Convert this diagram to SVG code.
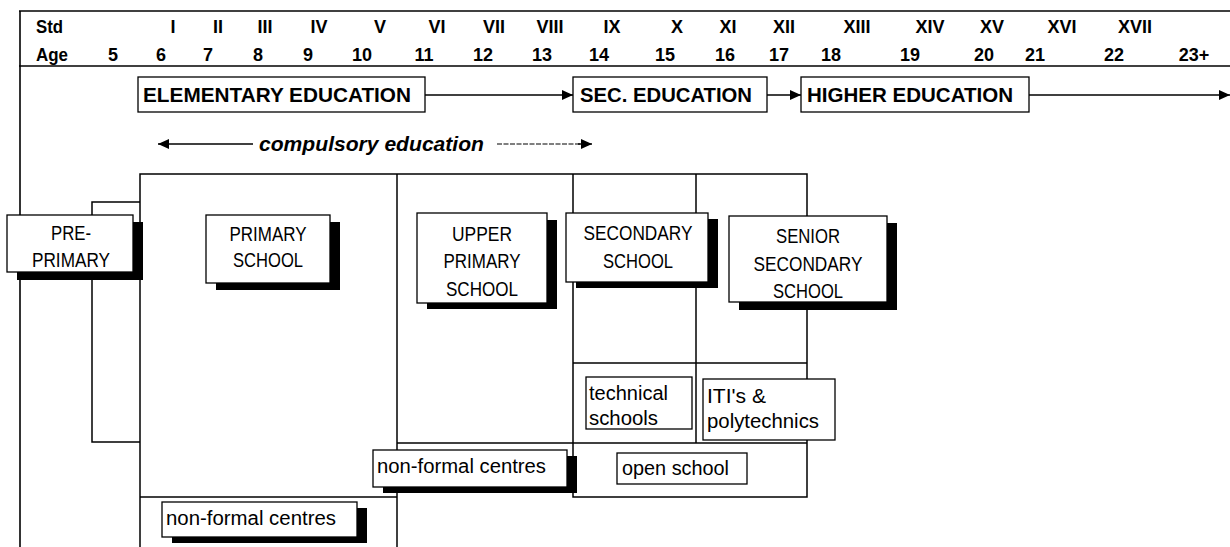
<svg xmlns="http://www.w3.org/2000/svg" width="1230" height="547" viewBox="0 0 1230 547">
  <style>
    .bg { fill: #ffffff; }
    .rule { stroke: #000; stroke-width: 1.6; fill: none; }
    .grid { stroke: #000; stroke-width: 1.5; fill: none; }
    .box { fill: #fff; stroke: #000; stroke-width: 1.3; }
    .shadow { fill: #000; }
    .hdr { font-family: "Liberation Sans Narrow", "Liberation Sans", Arial, sans-serif; font-weight: bold; font-size: 18px; fill: #000; }
    .hdr-c { text-anchor: middle; }
    .stage { font-family: "Liberation Sans", Arial, sans-serif; font-weight: bold; font-size: 21px; fill: #000; }
    .comp { font-family: "Liberation Sans", Arial, sans-serif; font-weight: bold; font-style: italic; font-size: 21px; fill: #000; }
    .cap { font-family: "Liberation Sans Narrow", "Liberation Sans", Arial, sans-serif; font-size: 21px; fill: #000; text-anchor: middle; }
    .low { font-family: "Liberation Sans", Arial, sans-serif; font-size: 20px; fill: #000; }
    .conn { stroke: #000; stroke-width: 1.4; fill: none; }
    .dash { stroke: #000; stroke-width: 1.2; fill: none; stroke-dasharray: 5 1.5; }
  </style>
  <defs>
    <marker id="head" markerUnits="userSpaceOnUse" markerWidth="12" markerHeight="12" refX="11" refY="6" orient="auto-start-reverse">
      <path d="M0,1 L11,6 L0,11 z" fill="#000"/>
    </marker>
  </defs>

  <rect class="bg" x="0" y="0" width="1230" height="547"/>

  <!-- age / standard scale -->
  <g id="scale">
    <line class="rule" x1="19" y1="11" x2="1230" y2="11"/>
    <line class="rule" x1="19" y1="66" x2="1230" y2="66"/>
    <line class="rule" x1="20" y1="11" x2="20" y2="547"/>
    <text class="hdr" x="36" y="33" textLength="27" lengthAdjust="spacingAndGlyphs">Std</text>
    <g class="hdr hdr-c">
      <text x="173" y="33">I</text>
      <text x="218" y="33">II</text>
      <text x="265" y="33">III</text>
      <text x="319" y="33">IV</text>
      <text x="380" y="33">V</text>
      <text x="437" y="33">VI</text>
      <text x="494" y="33">VII</text>
      <text x="550" y="33">VIII</text>
      <text x="612" y="33">IX</text>
      <text x="677" y="33">X</text>
      <text x="728" y="33">XI</text>
      <text x="784" y="33">XII</text>
      <text x="857" y="33">XIII</text>
      <text x="930" y="33">XIV</text>
      <text x="992" y="33">XV</text>
      <text x="1062" y="33">XVI</text>
      <text x="1135" y="33">XVII</text>
    </g>
    <text class="hdr" x="36" y="61" textLength="32" lengthAdjust="spacingAndGlyphs">Age</text>
    <g class="hdr hdr-c">
      <text x="113" y="61">5</text>
      <text x="161" y="61">6</text>
      <text x="208" y="61">7</text>
      <text x="258" y="61">8</text>
      <text x="308" y="61">9</text>
      <text x="362" y="61">10</text>
      <text x="424" y="61">11</text>
      <text x="483" y="61">12</text>
      <text x="542" y="61">13</text>
      <text x="599" y="61">14</text>
      <text x="665" y="61">15</text>
      <text x="725" y="61">16</text>
      <text x="779" y="61">17</text>
      <text x="831" y="61">18</text>
      <text x="910" y="61">19</text>
      <text x="984" y="61">20</text>
      <text x="1035" y="61">21</text>
      <text x="1114" y="61">22</text>
      <text x="1194" y="61">23+</text>
    </g>
  </g>

  <!-- school structure grid -->
  <g id="grid">
    <path class="grid" d="M140,547 V174 H807 V497 H573 V174"/>
    <line class="grid" x1="397" y1="174" x2="397" y2="547"/>
    <line class="grid" x1="696" y1="174" x2="696" y2="443"/>
    <line class="grid" x1="573" y1="363" x2="807" y2="363"/>
    <line class="grid" x1="397" y1="443" x2="807" y2="443"/>
    <line class="grid" x1="140" y1="497" x2="397" y2="497"/>
    <path class="grid" d="M140,202 H92 V442 H140"/>
  </g>

  <!-- connectors -->
  <g id="connectors">
    <line class="conn" x1="425" y1="95" x2="573" y2="95" marker-end="url(#head)"/>
    <line class="conn" x1="767" y1="95" x2="801" y2="95" marker-end="url(#head)"/>
    <line class="conn" x1="1029" y1="95" x2="1230" y2="95" marker-end="url(#head)"/>
    <line class="conn" x1="158" y1="144" x2="253" y2="144" marker-start="url(#head)"/>
    <line class="dash" x1="497" y1="144" x2="580" y2="144"/>
    <line class="conn" x1="578" y1="144" x2="592" y2="144" marker-end="url(#head)"/>
    <text class="comp" x="259" y="151" textLength="225" lengthAdjust="spacingAndGlyphs">compulsory education</text>
  </g>

  <!-- stage headings -->
  <g id="elementary">
    <rect class="box" x="138" y="77" width="287" height="35"/>
    <text class="stage" x="143" y="102" textLength="268" lengthAdjust="spacingAndGlyphs">ELEMENTARY EDUCATION</text>
  </g>
  <g id="secondary-ed">
    <rect class="box" x="573" y="77" width="194" height="35"/>
    <text class="stage" x="580" y="102" textLength="172" lengthAdjust="spacingAndGlyphs">SEC. EDUCATION</text>
  </g>
  <g id="higher-ed">
    <rect class="box" x="801" y="77" width="228" height="35"/>
    <text class="stage" x="807" y="102" textLength="206" lengthAdjust="spacingAndGlyphs">HIGHER EDUCATION</text>
  </g>

  <!-- schools -->
  <g id="pre-primary">
    <rect class="shadow" x="17" y="222" width="126" height="58"/>
    <rect class="box" x="7" y="215" width="126" height="57"/>
    <text class="cap" x="71" y="240" textLength="40" lengthAdjust="spacingAndGlyphs">PRE-</text>
    <text class="cap" x="71" y="267" textLength="78" lengthAdjust="spacingAndGlyphs">PRIMARY</text>
  </g>
  <g id="primary">
    <rect class="shadow" x="216" y="222" width="124" height="68"/>
    <rect class="box" x="206" y="215" width="124" height="68"/>
    <text class="cap" x="268" y="241" textLength="77" lengthAdjust="spacingAndGlyphs">PRIMARY</text>
    <text class="cap" x="268" y="267" textLength="70" lengthAdjust="spacingAndGlyphs">SCHOOL</text>
  </g>
  <g id="upper-primary">
    <rect class="shadow" x="427" y="220" width="130" height="89"/>
    <rect class="box" x="417" y="213" width="130" height="90"/>
    <text class="cap" x="482" y="241" textLength="60" lengthAdjust="spacingAndGlyphs">UPPER</text>
    <text class="cap" x="482" y="268" textLength="77" lengthAdjust="spacingAndGlyphs">PRIMARY</text>
    <text class="cap" x="482" y="296" textLength="72" lengthAdjust="spacingAndGlyphs">SCHOOL</text>
  </g>
  <g id="secondary">
    <rect class="shadow" x="576" y="219" width="142" height="69"/>
    <rect class="box" x="566" y="213" width="142" height="69"/>
    <text class="cap" x="638" y="240" textLength="109" lengthAdjust="spacingAndGlyphs">SECONDARY</text>
    <text class="cap" x="638" y="268" textLength="70" lengthAdjust="spacingAndGlyphs">SCHOOL</text>
  </g>
  <g id="senior-secondary">
    <rect class="shadow" x="739" y="223" width="158" height="87"/>
    <rect class="box" x="729" y="216" width="158" height="86"/>
    <text class="cap" x="808" y="243" textLength="64" lengthAdjust="spacingAndGlyphs">SENIOR</text>
    <text class="cap" x="808" y="271" textLength="109" lengthAdjust="spacingAndGlyphs">SECONDARY</text>
    <text class="cap" x="808" y="298" textLength="70" lengthAdjust="spacingAndGlyphs">SCHOOL</text>
  </g>
  <g id="technical">
    <rect class="box" x="586" y="377" width="106" height="52"/>
    <text class="low" x="589" y="400" textLength="79" lengthAdjust="spacingAndGlyphs">technical</text>
    <text class="low" x="589" y="425" textLength="69" lengthAdjust="spacingAndGlyphs">schools</text>
  </g>
  <g id="iti">
    <rect class="box" x="703" y="379" width="132" height="61"/>
    <text class="low" x="707" y="403" textLength="59" lengthAdjust="spacingAndGlyphs">ITI's &amp;</text>
    <text class="low" x="707" y="428" textLength="112" lengthAdjust="spacingAndGlyphs">polytechnics</text>
  </g>
  <g id="non-formal-upper">
    <rect class="shadow" x="383" y="456" width="194" height="37"/>
    <rect class="box" x="373" y="450" width="194" height="37"/>
    <text class="low" x="377" y="473" textLength="169" lengthAdjust="spacingAndGlyphs">non-formal centres</text>
  </g>
  <g id="open-school">
    <rect class="box" x="617" y="453" width="130" height="31"/>
    <text class="low" x="622" y="475" textLength="107" lengthAdjust="spacingAndGlyphs">open school</text>
  </g>
  <g id="non-formal-lower">
    <rect class="shadow" x="172" y="508" width="195" height="35"/>
    <rect class="box" x="162" y="502" width="195" height="35"/>
    <text class="low" x="166" y="525" textLength="170" lengthAdjust="spacingAndGlyphs">non-formal centres</text>
  </g>
</svg>
